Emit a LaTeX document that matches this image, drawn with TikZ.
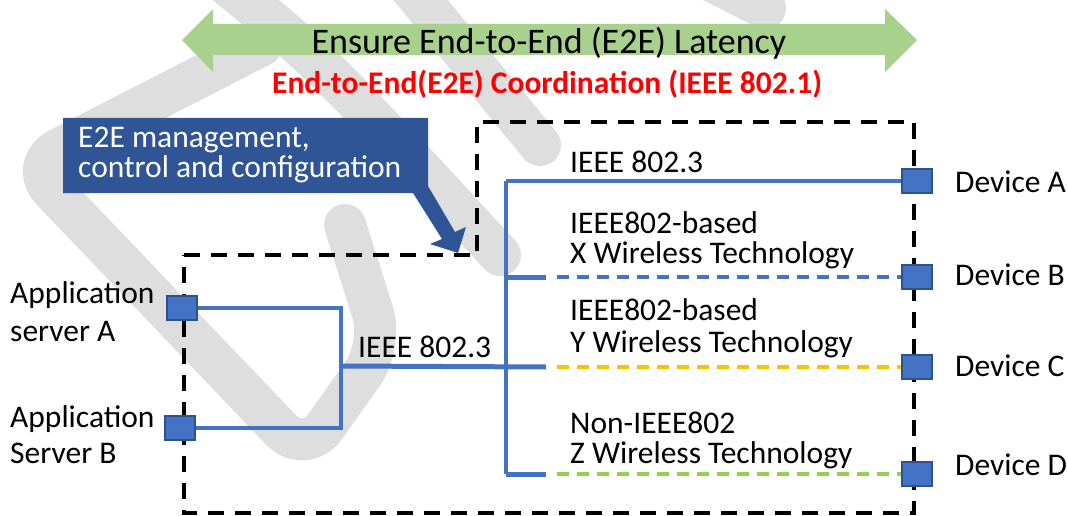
\documentclass[tikz,border=0pt]{standalone}
\usepackage{fontspec}
\setmainfont{Carlito}
\definecolor{blueA}{HTML}{4472C4}
\definecolor{sqborder}{HTML}{2F528F}
\definecolor{callout}{HTML}{2F5597}
\definecolor{arrowgreen}{HTML}{A9D18E}
\definecolor{wyellow}{HTML}{FFC000}
\definecolor{wgreen}{HTML}{92D050}
\definecolor{wmark}{RGB}{222,222,222}
\begin{document}
\begin{tikzpicture}[x=1pt,y=-1pt,
  txt/.style={inner sep=0pt, anchor=base west, font=\fontsize{31.5}{36}\selectfont},
  sq/.style={draw=sqborder, fill=blueA, line width=1.2pt, minimum width=30pt, minimum height=24pt, inner sep=0pt},
  link/.style={draw=blueA, line width=3.2pt},
  stub/.style={draw=blueA, line width=5pt},
  wless/.style={line width=4.2pt, dash pattern=on 12pt off 8pt},
  bound/.style={draw=black, line width=4.5pt, dash pattern=on 16pt off 11pt},
  wm/.style={draw=wmark, line width=42pt, line cap=round, line join=round}]
\useasboundingbox (0,0) rectangle (1068,516);

% watermark
\draw[wm, rounded corners=35pt] (262,45) -- (28,165) -- (305,455) -- (383,345) -- (345,225);
\draw[wm] (215,-25) .. controls (320,60) .. (500,255);
\draw[wm] (400,-25) -- (540,145);
\draw[wm] (700,-25) -- (765,8);

% green double arrow
\fill[arrowgreen] (182,40) -- (213,9) -- (213,24) -- (885,24) -- (885,9) -- (917,40)
  -- (885,72) -- (885,55) -- (213,55) -- (213,72) -- cycle;
\node[inner sep=0pt, anchor=base, font=\fontsize{36}{40}\selectfont] (latency) at (549,54) {Ensure End-to-End (E2E) Latency};
\node[inner sep=0pt, anchor=base, text=red, font=\fontsize{31.5}{36}\selectfont\bfseries] (coord) at (547,94) {End-to-End(E2E) Coordination (IEEE 802.1)};

% dashed boundary
\draw[bound] (184,255) -- (477,255) -- (477,122) -- (914,122) -- (914,513) -- (184,513) -- cycle;

% callout
\fill[callout] (63,118) -- (428,118) -- (428,186) -- (455,232) -- (466,227) -- (458,253)
  -- (430,244) -- (442,239) -- (413,193) -- (63,193) -- cycle;
\node[txt, text=white] (cl1) at (78,147) {E2E management,};
\node[txt, text=white] (cl2) at (78,177) {control and configuration};

% junction coordinates
\coordinate (j1) at (341,366);
\coordinate (tA) at (506,181);
\coordinate (tB) at (506,277);
\coordinate (tC) at (506,367);
\coordinate (tD) at (506,474);
\coordinate (sB) at (546,277);
\coordinate (sC) at (546,367);
\coordinate (sD) at (546,474);
\coordinate (dB) at (557,277);
\coordinate (dC) at (557,367);
\coordinate (dD) at (557,474);

% squares
\node[sq] (srvA) at (182,308) {};
\node[sq] (srvB) at (180,428) {};
\node[sq] (devA) at (917,181) {};
\node[sq] (devB) at (917,277) {};
\node[sq] (devC) at (917,367) {};
\node[sq] (devD) at (917,474) {};

% links
\draw[link] (srvA.east) -| (j1) |- (srvB.east);
\draw[stub] (j1) -- (sC);
\draw[link] (tA) -- (tD);
\draw[link] (tA) -- (devA.west);
\draw[stub] (tB) -- (sB);
\draw[stub] (tD) -- (sD);
\draw[wless, draw=blueA] (dB) -- (devB.west);
\draw[wless, draw=wyellow] (dC) -- (devC.west);
\draw[wless, draw=wgreen] (dD) -- (devD.west);
% redraw squares on top
\node[sq] at (srvA) {};
\node[sq] at (srvB) {};
\node[sq] at (devA) {};
\node[sq] at (devB) {};
\node[sq] at (devC) {};
\node[sq] at (devD) {};

% labels
\node[txt] (la1) at (10,303) {Application};
\node[txt] (la2) at (10,341) {server A};
\node[txt] (lb1) at (10,427) {Application};
\node[txt] (lb2) at (10,463) {Server B};
\node[txt] (l8023) at (358,357) {IEEE 802.3};
\node[txt] (u8023) at (570,172) {IEEE 802.3};
\node[txt] (x1) at (570,233) {IEEE802-based};
\node[txt] (x2) at (570,263) {X Wireless Technology};
\node[txt] (y1) at (570,320) {IEEE802-based};
\node[txt] (y2) at (570,352) {Y Wireless Technology};
\node[txt] (z1) at (570,433) {Non-IEEE802};
\node[txt] (z2) at (570,463) {Z Wireless Technology};
\node[txt] (nA) at (955,192) {Device A};
\node[txt] (nB) at (955,285) {Device B};
\node[txt] (nC) at (955,376) {Device C};
\node[txt] (nD) at (955,475) {Device D};
\end{tikzpicture}
\end{document}
